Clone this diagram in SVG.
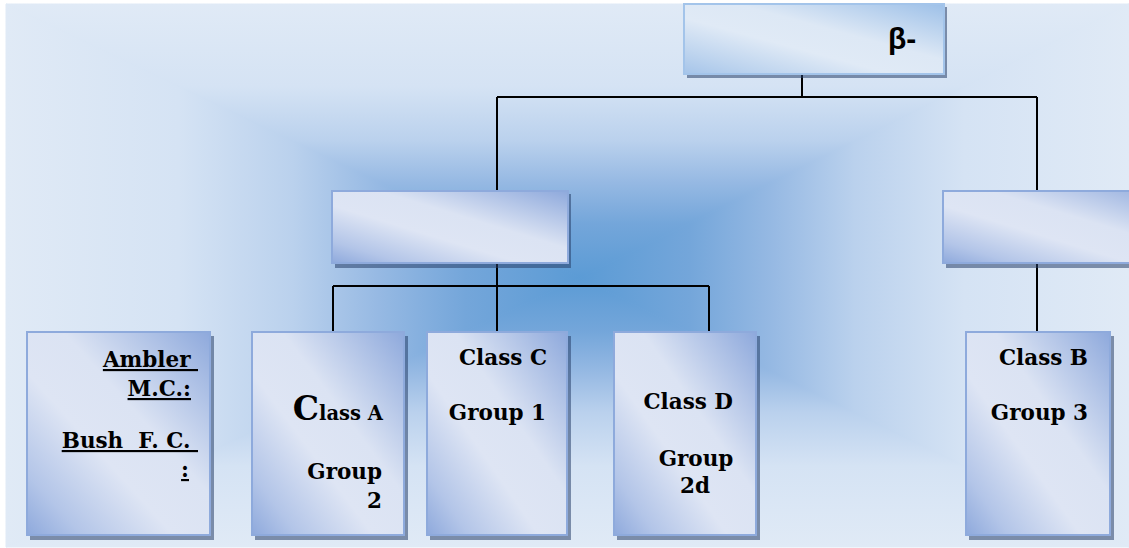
<svg xmlns="http://www.w3.org/2000/svg" width="1129" height="548" viewBox="0 0 1129 548">
<defs>
<linearGradient id="bgT" gradientUnits="userSpaceOnUse" x1="0" y1="4" x2="0" y2="278">
<stop offset="0" stop-color="#e0eaf6"/><stop offset="0.3" stop-color="#d5e3f4"/><stop offset="0.5" stop-color="#bad1ed"/><stop offset="0.65" stop-color="#96b9e3"/><stop offset="0.8" stop-color="#74a6da"/><stop offset="1" stop-color="#5b9bd5"/>
</linearGradient>
<linearGradient id="bgB" href="#bgT" gradientUnits="userSpaceOnUse" x1="0" y1="547" x2="0" y2="278"/>
<linearGradient id="bgL" href="#bgT" gradientUnits="userSpaceOnUse" x1="6" y1="0" x2="580" y2="0"/>
<linearGradient id="bgR" href="#bgT" gradientUnits="userSpaceOnUse" x1="1129" y1="0" x2="580" y2="0"/>
<linearGradient id="boxFill" x1="1" y1="0" x2="0" y2="1">
<stop offset="0" stop-color="#8ea9dc"/><stop offset="0.4" stop-color="#dbe3f3"/><stop offset="0.6" stop-color="#dee5f4"/><stop offset="0.85" stop-color="#b3c5e8"/><stop offset="1" stop-color="#8ea9dc"/>
</linearGradient>
<linearGradient id="topFill" x1="1" y1="0" x2="0" y2="1">
<stop offset="0" stop-color="#9dc0e8"/><stop offset="0.4" stop-color="#dde8f5"/><stop offset="0.6" stop-color="#e0eaf6"/><stop offset="0.85" stop-color="#bcd3ee"/><stop offset="1" stop-color="#a5c4e9"/>
</linearGradient>
</defs>
<style>
.shadow{fill:#28406a;fill-opacity:0.55}
.box{fill:url(#boxFill);stroke:#8eaadc;stroke-width:2}
.topbox{fill:url(#topFill);stroke:#a3c4ea;stroke-width:2}
.conn{fill:none;stroke:#000;stroke-width:2}
.t{font-family:"DejaVu Serif","Liberation Serif",serif;font-weight:bold;font-size:21.5px;fill:#000}
.u{text-decoration:underline;white-space:pre}
</style>
<rect x="0" y="0" width="1129" height="548" fill="#ffffff"/>
<g id="background">
<rect x="6" y="4" width="1123" height="543" fill="#bad1ed"/>
<polygon points="6,4 1129,4 580,278" fill="url(#bgT)" stroke="url(#bgT)" stroke-width="1"/>
<polygon points="6,547 1129,547 580,278" fill="url(#bgB)" stroke="url(#bgB)" stroke-width="1"/>
<polygon points="6,4 6,547 580,278" fill="url(#bgL)" stroke="url(#bgL)" stroke-width="1"/>
<polygon points="1129,4 1129,547 580,278" fill="url(#bgR)" stroke="url(#bgR)" stroke-width="1"/>
</g>
<g id="connectors">
<path class="conn" d="M802 74 V97 M497 97 H1037 M497 97 V190 M1037 97 V190"/>
<path class="conn" d="M497 263 V331 M333 286 H709 M333 286 V332 M709 286 V332"/>
<path class="conn" d="M1037 263 V332"/>
</g>
<g id="node-top">
<rect class="shadow" x="687" y="7" width="260" height="71"/>
<rect class="topbox" x="684" y="4" width="260" height="70"/>
<text x="888" y="49" font-family="'Liberation Sans',Arial,sans-serif" font-weight="bold" font-size="30" fill="#000">β-</text>
</g>
<g id="node-mid-left">
<rect class="shadow" x="335" y="194" width="236" height="74"/>
<rect class="box" x="332" y="191" width="236" height="72"/>
</g>
<g id="node-mid-right">
<rect class="shadow" x="946" y="194" width="236" height="74"/>
<rect class="box" x="943" y="191" width="236" height="72"/>
</g>
<g id="node-ambler">
<rect class="shadow" x="30" y="336" width="184" height="204"/>
<rect class="box" x="27" y="332" width="183" height="203"/>
<text class="t u" x="198" y="367" text-anchor="end">Ambler </text>
<text class="t u" x="191" y="396" text-anchor="end">M.C.:</text>
<text class="t u" x="198" y="448" text-anchor="end">Bush  F. C. </text>
<text class="t u" x="189" y="477" text-anchor="end">:</text>
</g>
<g id="node-classA">
<rect class="shadow" x="255" y="336" width="153" height="204"/>
<rect class="box" x="252" y="332" width="152" height="203"/>
<text class="t" x="383" y="420" text-anchor="end"><tspan font-size="33">C</tspan><tspan font-size="19.5">lass A</tspan></text>
<text class="t" x="382" y="479" text-anchor="end">Group</text>
<text class="t" x="382" y="508" text-anchor="end">2</text>
</g>
<g id="node-classC">
<rect class="shadow" x="430" y="336" width="141" height="204"/>
<rect class="box" x="427" y="332" width="140" height="203"/>
<text class="t" x="547" y="365" text-anchor="end">Class C</text>
<text class="t" x="546" y="420" text-anchor="end">Group 1</text>
</g>
<g id="node-classD">
<rect class="shadow" x="617" y="336" width="143" height="204"/>
<rect class="box" x="614" y="332" width="142" height="203"/>
<text class="t" x="733" y="409" text-anchor="end">Class D</text>
<text class="t" x="696" y="466" text-anchor="middle">Group</text>
<text class="t" x="695" y="493" text-anchor="middle">2d</text>
</g>
<g id="node-classB">
<rect class="shadow" x="969" y="336" width="145" height="204"/>
<rect class="box" x="966" y="332" width="144" height="203"/>
<text class="t" x="1088" y="365" text-anchor="end">Class B</text>
<text class="t" x="1088" y="420" text-anchor="end">Group 3</text>
</g>
</svg>
